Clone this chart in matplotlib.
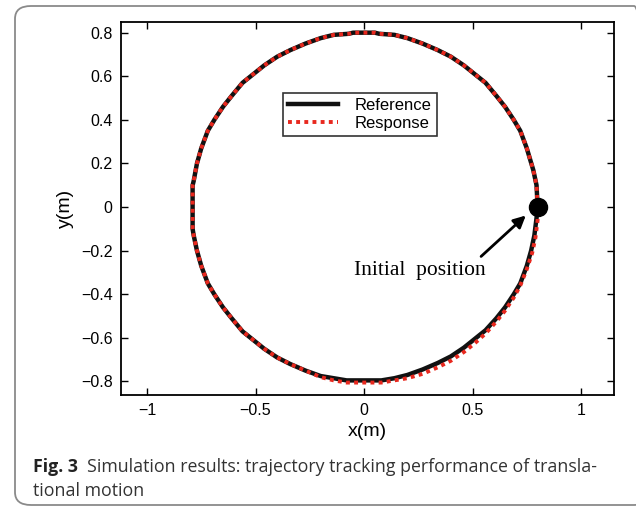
import matplotlib
matplotlib.use("Agg")
import matplotlib.pyplot as plt
from matplotlib.patches import FancyBboxPatch

# Reference trajectory
ref_x = [0.80, 0.795, 0.78, 0.75, 0.72, 0.69, 0.65, 0.61, 0.56, 0.51, 0.46, 0.40, 0.34, 0.27, 0.20, 0.14, 0.07, 0.05,
         -0.05, -0.07, -0.14, -0.20, -0.27, -0.34, -0.40, -0.46, -0.51, -0.56, -0.61, -0.65, -0.69, -0.72, -0.75, -0.77,
         -0.785, -0.79, -0.79, -0.785, -0.77, -0.75, -0.72, -0.69, -0.65, -0.61, -0.56, -0.51, -0.46, -0.40, -0.34, -0.27,
         -0.20, -0.14, -0.08, 0.08, 0.14, 0.20, 0.27, 0.34, 0.40, 0.46, 0.51, 0.56, 0.61, 0.65, 0.69, 0.72, 0.75, 0.77,
         0.785, 0.795, 0.80]
ref_y = [0.00, 0.10, 0.17, 0.27, 0.35, 0.40, 0.46, 0.51, 0.57, 0.61, 0.65, 0.69, 0.72, 0.75, 0.775, 0.79, 0.795, 0.80,
         0.80, 0.795, 0.79, 0.775, 0.75, 0.72, 0.69, 0.65, 0.61, 0.57, 0.51, 0.46, 0.40, 0.35, 0.27, 0.20,
         0.12, 0.10, -0.10, -0.13, -0.20, -0.27, -0.35, -0.40, -0.46, -0.51, -0.57, -0.61, -0.65, -0.69, -0.72, -0.75,
         -0.775, -0.785, -0.795, -0.795, -0.785, -0.77, -0.745, -0.715, -0.685, -0.645, -0.605, -0.565, -0.51, -0.46, -0.40, -0.35, -0.27, -0.20,
         -0.13, -0.05, 0.00]

# Response trajectory
resp_x = [0.80, 0.795, 0.78, 0.75, 0.72, 0.69, 0.65, 0.61, 0.56, 0.51, 0.46, 0.40, 0.34, 0.27, 0.20, 0.14, 0.07, 0.05,
          -0.05, -0.07, -0.14, -0.20, -0.27, -0.34, -0.40, -0.46, -0.51, -0.56, -0.61, -0.65, -0.69, -0.72, -0.75, -0.77,
          -0.785, -0.79, -0.79, -0.785, -0.77, -0.75, -0.72, -0.69, -0.65, -0.61, -0.56, -0.51, -0.46, -0.40, -0.34, -0.27,
          -0.20, -0.14, -0.08, 0.08, 0.14, 0.20, 0.27, 0.34, 0.40, 0.46, 0.51, 0.56, 0.61, 0.65, 0.69, 0.72, 0.75, 0.775,
          0.79, 0.80, 0.80]
resp_y = [0.00, 0.10, 0.17, 0.27, 0.35, 0.40, 0.46, 0.51, 0.57, 0.61, 0.65, 0.69, 0.72, 0.75, 0.775, 0.79, 0.795, 0.80,
          0.80, 0.795, 0.79, 0.775, 0.75, 0.72, 0.69, 0.65, 0.61, 0.57, 0.51, 0.46, 0.40, 0.35, 0.27, 0.20,
          0.12, 0.10, -0.10, -0.13, -0.20, -0.27, -0.35, -0.40, -0.46, -0.51, -0.57, -0.61, -0.65, -0.69, -0.72, -0.75,
          -0.78, -0.795, -0.805, -0.805, -0.795, -0.785, -0.765, -0.735, -0.705, -0.665, -0.625, -0.58, -0.525, -0.475, -0.415, -0.36, -0.285, -0.21,
          -0.14, -0.06, 0.00]

initial_pos = (0.80, 0.00)
x_ticks = [-1, -0.5, 0, 0.5, 1]
x_tick_labels = ["\u22121", "\u22120.5", "0", "0.5", "1"]
y_ticks = [-0.8, -0.6, -0.4, -0.2, 0, 0.2, 0.4, 0.6, 0.8]
y_tick_labels = ["\u22120.8", "\u22120.6", "\u22120.4", "\u22120.2", "0", "0.2", "0.4", "0.6", "0.8"]

plt.rcParams['font.family'] = ['Liberation Sans', 'DejaVu Sans']

fig = plt.figure(figsize=(6.36, 5.11), dpi=100)
W, H = 636, 511
ax = fig.add_axes([121 / W, 1 - 395 / H, (614 - 121) / W, (395 - 22) / H])

ax.plot(ref_x, ref_y, color='#111111', lw=3.2, label='Reference', solid_joinstyle='round')
ax.plot(resp_x, resp_y, color='#e8281e', lw=2.8, linestyle=(0, (1.0, 1.1)), label='Response')
ax.plot([initial_pos[0]], [initial_pos[1]], 'o', color='black', markersize=13, zorder=5)

ax.annotate('', xy=(0.755, -0.03), xytext=(0.53, -0.235),
            arrowprops=dict(arrowstyle='-|>', color='black', lw=2, mutation_scale=18))
ax.text(0.255, -0.29, 'Initial  position', family=['Liberation Serif'], fontsize=15.5,
        ha='center', va='center')

ax.set_xlim(-1.12, 1.152)
ax.set_ylim(-0.862, 0.849)
ax.set_xticks(x_ticks)
ax.set_xticklabels(x_tick_labels)
ax.set_yticks(y_ticks)
ax.set_yticklabels(y_tick_labels)
ax.tick_params(direction='in', top=True, right=True, length=5, width=1, labelsize=11.5, pad=6)
for s in ax.spines.values():
    s.set_linewidth(1.3)
ax.set_xlabel('x(m)', fontsize=14, labelpad=3)
ax.set_ylabel('y(m)', fontsize=14, labelpad=5)

leg = ax.legend(loc='upper left', bbox_to_anchor=((283 - 121) / 493, 1 - (93 - 22) / 373),
                frameon=True, fancybox=False, edgecolor='black', fontsize=12,
                handlelength=3.0, borderpad=0.3, labelspacing=0.2, handletextpad=1.0,
                borderaxespad=0)
leg.get_frame().set_linewidth(1.2)

# figure border
box = FancyBboxPatch((15 / W, 6 / H), (650 - 15) / W, (505 - 6) / H,
                     boxstyle='round,pad=0,rounding_size=0.025', transform=fig.transFigure,
                     facecolor='none', edgecolor='#8a8a8a', lw=1.3, clip_on=False)
fig.patches.append(box)

# caption
cap_font = ['Open Sans', 'DejaVu Sans']
t1 = fig.text(33 / W, 1 - 467 / H, 'Fig. 3', family=cap_font, fontweight='bold', fontsize=12.8,
              va='center', ha='left', color='#222222')
fig.canvas.draw()
bb = t1.get_window_extent()
fig.text((bb.x1 + 9) / W, 1 - 467 / H, 'Simulation results: trajectory tracking performance of transla-',
         family=cap_font, fontsize=12.8, va='center', ha='left', color='#333333')
fig.text(33 / W, 1 - 491 / H, 'tional motion', family=cap_font, fontsize=12.8,
         va='center', ha='left', color='#333333')

fig.savefig('out.png', dpi=100)
